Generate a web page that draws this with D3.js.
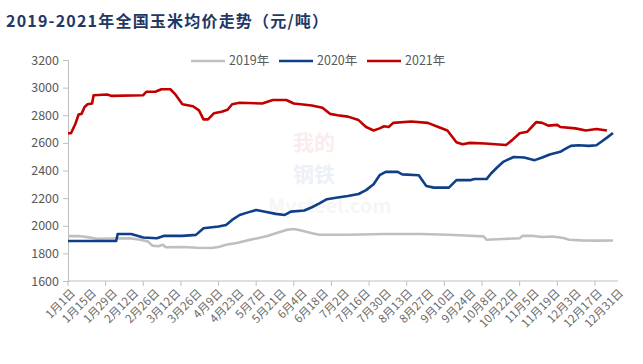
<!DOCTYPE html>
<html>
<head>
<meta charset="utf-8">
<script src="https://cdn.jsdelivr.net/npm/d3@7"></script>
<style>
  body { margin: 0; background: #fff; }
  svg { display: block; font-family: "Noto Sans CJK SC", "Noto Sans", sans-serif; }
</style>
</head>
<body>
<div id="chart"></div>
<script>
// series as [day of year (0 = 1月1日), price]
const s2019 = [
  [0, 1925], [7, 1926], [14, 1916], [19, 1906], [31, 1908], [41, 1910], [48, 1899], [53, 1887],
  [56, 1856], [60, 1851], [63, 1862], [65, 1844], [76, 1846], [86, 1841], [95, 1839], [100, 1846],
  [105, 1862], [112, 1875], [119, 1894], [126, 1910], [133, 1927], [138, 1946], [145, 1970],
  [150, 1977], [155, 1965], [162, 1946], [167, 1935], [186, 1935], [210, 1940], [234, 1940],
  [253, 1935], [267, 1928], [276, 1923], [278, 1899], [289, 1904], [300, 1910], [302, 1927],
  [308, 1927], [315, 1918], [322, 1922], [329, 1911], [333, 1899], [341, 1894], [353, 1892], [362, 1893]
];
const s2020 = [
  [0, 1890], [32, 1890], [33, 1940], [42, 1940], [50, 1915], [59, 1910], [64, 1927], [76, 1927],
  [85, 1934], [90, 1982], [100, 1994], [105, 2006], [109, 2042], [114, 2078], [119, 2095],
  [125, 2114], [131, 2102], [138, 2086], [144, 2078], [148, 2102], [157, 2110], [162, 2134],
  [167, 2162], [172, 2192], [179, 2204], [186, 2216], [193, 2230], [198, 2258], [203, 2300],
  [207, 2366], [211, 2390], [219, 2390], [222, 2372], [233, 2366], [236, 2318], [238, 2288],
  [243, 2276], [253, 2276], [258, 2330], [267, 2330], [270, 2338], [278, 2338], [281, 2378],
  [285, 2422], [289, 2462], [296, 2498], [303, 2494], [310, 2475], [315, 2494], [320, 2516],
  [327, 2535], [330, 2554], [334, 2578], [339, 2583], [346, 2578], [351, 2583], [354, 2606],
  [358, 2638], [362, 2672]
];
const s2021 = [
  [0, 2670], [2, 2670], [5, 2740], [7, 2805], [9, 2810], [11, 2860], [13, 2880], [16, 2885],
  [17, 2945], [26, 2950], [29, 2940], [50, 2945], [52, 2970], [58, 2970], [62, 2988], [68, 2988],
  [71, 2955], [76, 2880], [83, 2865], [87, 2835], [90, 2770], [93, 2770], [97, 2815], [102, 2825],
  [106, 2840], [109, 2880], [114, 2890], [129, 2885], [136, 2910], [145, 2910], [150, 2885],
  [162, 2870], [169, 2855], [174, 2810], [179, 2800], [186, 2790], [193, 2765], [198, 2715],
  [203, 2690], [207, 2705], [210, 2720], [213, 2715], [216, 2745], [228, 2755], [239, 2745],
  [246, 2715], [252, 2690], [258, 2605], [262, 2590], [267, 2600], [277, 2595], [291, 2585],
  [295, 2620], [300, 2670], [305, 2680], [308, 2715], [311, 2750], [315, 2745], [319, 2725],
  [325, 2730], [327, 2715], [337, 2705], [344, 2690], [351, 2700], [358, 2690]
];

const seriesNames = ['2019年', '2020年', '2021年'];
const seriesColors = ['#BFBFBF', '#0E3F87', '#C00000'];

const yTicks = [1600, 1800, 2000, 2200, 2400, 2600, 2800, 3000, 3200];
const labelDays = d3.range(0, 365, 14);
const tickLabels = ['1月1日', '1月15日', '1月29日', '2月12日', '2月26日', '3月12日', '3月26日',
  '4月9日', '4月23日', '5月7日', '5月21日', '6月4日', '6月18日', '7月2日', '7月16日', '7月30日',
  '8月13日', '8月27日', '9月10日', '9月24日', '10月8日', '10月22日', '11月5日', '11月19日',
  '12月3日', '12月17日', '12月31日'];
const tickMarkDays = d3.range(0, 365, 25);

const width = 643, height = 364;
const svg = d3.select('#chart').append('svg')
  .attr('width', width)
  .attr('height', height);

const x = d3.scaleLinear().domain([0, 364]).range([68, 616]);
const y = d3.scaleLinear().domain([1600, 3200]).range([281, 60]);

// title
svg.append('text')
  .attr('x', 6)
  .attr('y', 27)
  .attr('fill', '#1F3864')
  .attr('font-size', 16)
  .attr('font-weight', 'bold')
  .attr('letter-spacing', 1.2)
  .text('2019-2021年全国玉米均价走势（元/吨）');

// faint watermark
const wm = svg.append('g').attr('opacity', 0.07);
wm.append('text').attr('x', 293).attr('y', 150).attr('font-size', 21).attr('font-weight', 'bold')
  .attr('fill', '#C00000').text('我的');
wm.append('text').attr('x', 293).attr('y', 182).attr('font-size', 21).attr('font-weight', 'bold')
  .attr('fill', '#0E3F87').text('钢铁');
wm.append('text').attr('x', 268).attr('y', 213).attr('font-size', 20).attr('font-weight', 'bold')
  .attr('fill', '#888').text('Mysteel.com');

// y axis
const yAxis = svg.append('g')
  .attr('transform', 'translate(68,0)')
  .call(d3.axisLeft(y).tickValues(yTicks).tickSize(5).tickPadding(4).tickFormat(d3.format('d')));
yAxis.select('.domain').attr('stroke', '#BFBFBF');
yAxis.selectAll('.tick line').attr('stroke', '#BFBFBF');
yAxis.selectAll('.tick text').attr('fill', '#595959').attr('font-size', 12.5)
  .attr('font-family', '"Noto Sans CJK SC", sans-serif');

// x axis
const xg = svg.append('g');
xg.append('line')
  .attr('x1', x(0)).attr('x2', 618)
  .attr('y1', y(1600)).attr('y2', y(1600))
  .attr('stroke', '#BFBFBF');
xg.selectAll('.xtick')
  .data(tickMarkDays)
  .enter()
  .append('line')
  .attr('x1', d => x(d)).attr('x2', d => x(d))
  .attr('y1', y(1600)).attr('y2', y(1600) + 5)
  .attr('stroke', '#BFBFBF');
xg.selectAll('.xlabel')
  .data(labelDays)
  .enter()
  .append('text')
  .attr('transform', d => 'translate(' + (x(d) + 5) + ',' + (y(1600) + 10) + ') rotate(-45)')
  .attr('text-anchor', 'end')
  .attr('dy', '0.35em')
  .attr('fill', '#6b6b6b')
  .attr('font-size', 11.5)
  .text((d, i) => tickLabels[i]);

// lines
const line = d3.line()
  .x(d => x(d[0]))
  .y(d => y(d[1]));

[s2019, s2020, s2021].forEach((s, i) => {
  svg.append('path')
    .datum(s)
    .attr('fill', 'none')
    .attr('stroke', seriesColors[i])
    .attr('stroke-width', 2.6)
    .attr('stroke-linejoin', 'round')
    .attr('d', line);
});

// legend
const legendX = [191, 279, 367];
const legend = svg.append('g');
seriesNames.forEach((name, i) => {
  legend.append('line')
    .attr('x1', legendX[i]).attr('x2', legendX[i] + 34)
    .attr('y1', 61).attr('y2', 61)
    .attr('stroke', seriesColors[i])
    .attr('stroke-width', 2.6);
  legend.append('text')
    .attr('x', legendX[i] + 38)
    .attr('y', 61)
    .attr('dy', '0.35em')
    .attr('fill', '#595959')
    .attr('font-size', 12.5)
    .text(name);
});
</script>
</body>
</html>
